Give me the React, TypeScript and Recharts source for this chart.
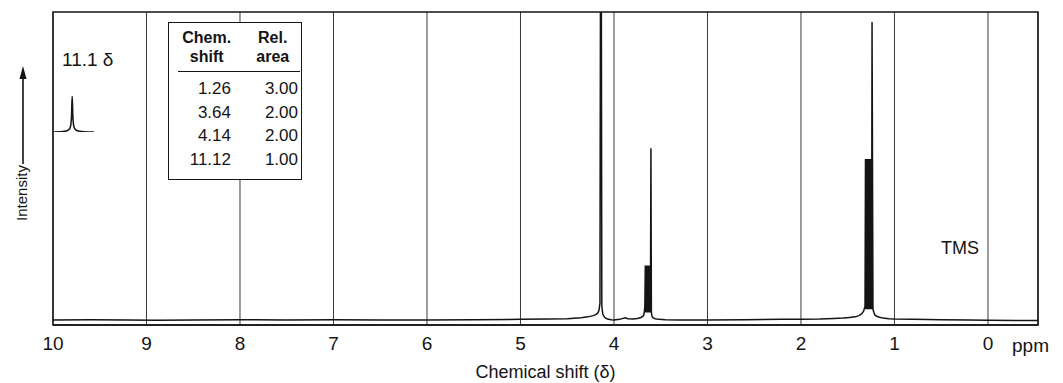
import { CartesianGrid, Label, Line, LineChart, ReferenceArea, ReferenceDot, XAxis, YAxis } from 'recharts';

// chemical shift (ppm) and intensity (% of plot height)
const spectrumShift = [
  10.0, 9.6, 9.2, 8.9, 8.5, 8.0, 7.5, 7.0, 6.5, 6.0, 5.5, 5.0, 4.7, 4.5, 4.35, 4.28, 4.22, 4.19, 4.17, 4.16, 4.15,
  4.145, 4.135, 4.13, 4.12, 4.1, 4.07, 4.03, 4.0, 3.94, 3.88, 3.85, 3.8, 3.75, 3.71, 3.69, 3.68, 3.675,
  3.67, 3.665, 3.66, 3.655, 3.65, 3.645, 3.64, 3.635, 3.63, 3.625, 3.62, 3.615, 3.61, 3.605, 3.6, 3.595, 3.59,
  3.58, 3.56, 3.52, 3.45, 3.3, 3.0, 2.6, 2.2, 2.0, 1.8, 1.65, 1.55, 1.48, 1.42, 1.38, 1.35, 1.33, 1.32,
  1.315, 1.31, 1.305, 1.3, 1.295, 1.29, 1.285, 1.28, 1.275, 1.27, 1.265, 1.26, 1.255, 1.25,
  1.245, 1.24, 1.23, 1.22, 1.21, 1.19, 1.16, 1.12, 1.06, 1.0, 0.8, 0.5, 0.2, 0.0, -0.3, -0.535,
];
const spectrumIntensity = [
  1.6, 1.7, 1.6, 1.5, 1.6, 1.7, 1.6, 1.7, 1.6, 1.6, 1.7, 1.8, 1.9, 2.0, 2.3, 2.6, 3.0, 3.4, 4.0, 4.8, 7.0,
  100, 100, 6.0, 3.5, 2.4, 1.9, 1.7, 1.6, 1.8, 2.3, 2.0, 1.9, 2.1, 2.4, 2.8, 3.3, 4.5,
  6, 19, 4, 19, 4, 19, 4, 19, 4, 19, 4, 19, 4, 56.5, 4, 3.0, 2.6,
  2.3, 2.0, 1.8, 1.7, 1.6, 1.6, 1.7, 1.8, 1.8, 1.9, 2.1, 2.2, 2.4, 2.6, 3.0, 3.6, 4.4, 5.5,
  6, 53, 5, 53, 5, 53, 5, 53, 5, 53, 5, 53, 5, 53, 5, 96.8,
  5, 4, 3.2, 2.8, 2.5, 2.2, 2.0, 1.9, 1.8, 1.7, 1.6, 1.5, 1.4, 1.4, 1.3, 1.3,
];
const spectrum = spectrumShift.map((ppm, i) => ({ ppm, intensity: spectrumIntensity[i] }));

const shiftTicks = [10, 9, 8, 7, 6, 5, 4, 3, 2, 1, 0];

// small 11.1 ppm (COOH) peak shown in the offset inset
const insetOffset = [-1, -0.7, -0.4, -0.2, -0.1, -0.04, 0, 0.04, 0.1, 0.2, 0.4, 0.7, 1, 1.2];
const insetHeight = [0, 0.5, 2, 6, 14, 40, 100, 40, 14, 6, 2, 0.5, 0, 0];
const inset = insetOffset.map((x, i) => ({ x, h: insetHeight[i] }));

const tableShift = ['1.26', '3.64', '4.14', '11.12'];
const tableArea = ['3.00', '2.00', '2.00', '1.00'];

const FONT = '"Liberation Sans", Arial, Helvetica, sans-serif';
const INK = '#141414';

function IntensityLabel() {
  return (
    <g>
      <text x={21} y={193} transform="rotate(-90 21 193)" textAnchor="middle" dominantBaseline="central"
        fontSize={15} fontFamily={FONT} fill={INK}>Intensity</text>
      <line x1={23} y1={164} x2={23} y2={76} stroke={INK} strokeWidth={1.6} />
      <polygon points="23,66 19.5,79 26.5,79" fill={INK} />
    </g>
  );
}

export default function App() {
  return (
    <div style={{ position: 'absolute', left: 0, top: 0, width: 1063, height: 383, background: '#fff', fontFamily: FONT }}>
      <LineChart width={1063} height={383} data={spectrum} margin={{ top: 12, right: 25, bottom: 0, left: 0 }}>
        <CartesianGrid horizontal={false} stroke="#3a3a3a" strokeWidth={1} />
        <XAxis dataKey="ppm" type="number" domain={[-0.535, 10]} reversed allowDataOverflow ticks={shiftTicks}
          interval={0} height={58} tickLine={false} tickMargin={6} axisLine={{ stroke: INK, strokeWidth: 1.5 }}
          tick={{ fontSize: 19, fill: INK, fontFamily: FONT }}>
          <Label value="Chemical shift (δ)" position="insideBottom" offset={5} fontSize={18} fill={INK} fontFamily={FONT} />
        </XAxis>
        <YAxis width={53} domain={[0, 100]} allowDataOverflow tick={false} axisLine={false} tickLine={false}
          label={<IntensityLabel />} />
        <ReferenceArea x1={10} x2={-0.535} y1={0} y2={100} fill="none" stroke={INK} strokeWidth={1.5} />
        <ReferenceDot x={0.3} y={24.6} r={0} fill="none" stroke="none"
          label={{ value: 'TMS', position: 'center', fontSize: 18, fill: INK, fontFamily: FONT }} />
        <Line dataKey="intensity" type="linear" stroke={INK} strokeWidth={1.5} dot={false} isAnimationActive={false} />
      </LineChart>

      <div style={{ position: 'absolute', left: 1012, top: 335, fontSize: 19, color: INK }}>ppm</div>

      <div style={{ position: 'absolute', left: 62, top: 49, fontSize: 19, color: INK }}>11.1 δ</div>
      <div style={{ position: 'absolute', left: 54, top: 96 }}>
        <LineChart width={40} height={36} data={inset} margin={{ top: 0, right: 0, bottom: 0, left: 0 }}>
          <XAxis dataKey="x" type="number" domain={[-1, 1.2]} hide />
          <YAxis domain={[0, 100]} hide />
          <Line dataKey="h" type="monotone" stroke={INK} strokeWidth={1.5} dot={false} isAnimationActive={false} />
        </LineChart>
      </div>

      <div style={{ position: 'absolute', left: 168, top: 22, width: 132, height: 156, border: `1.5px solid ${INK}`,
        background: '#fff', color: INK, fontSize: 17 }}>
        <div style={{ display: 'flex', paddingTop: 5, height: 43, fontWeight: 700, fontSize: 16, lineHeight: '19px' }}>
          <div style={{ width: 80, textAlign: 'center' }}>Chem.<br />shift</div>
          <div style={{ width: 60, textAlign: 'center' }}>Rel.<br />area</div>
        </div>
        <div style={{ marginLeft: 9, width: 122, borderTop: `1.5px solid ${INK}` }} />
        <div style={{ paddingTop: 5 }}>
          {tableShift.map((s, i) => (
            <div key={s} style={{ display: 'flex', height: 23.5, lineHeight: '23.5px' }}>
              <div style={{ width: 62, textAlign: 'right' }}>{s}</div>
              <div style={{ width: 67, textAlign: 'right' }}>{tableArea[i]}</div>
            </div>
          ))}
        </div>
      </div>
    </div>
  );
}
